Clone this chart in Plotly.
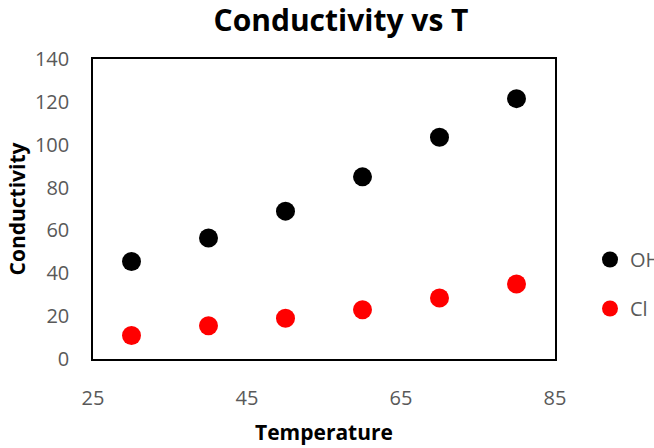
import plotly.graph_objects as go

temperature = [30, 40, 50, 60, 70, 80]
oh_conductivity = [45.5, 56.5, 69, 85, 103.5, 121.5]
cl_conductivity = [11, 15.5, 19, 23, 28.5, 35]
x_ticks = [25, 45, 65, 85]
y_ticks = [0, 20, 40, 60, 80, 100, 120, 140]

FONT = "Open Sans, sans-serif"
GREY = "#595959"

fig = go.Figure()
fig.add_trace(go.Scatter(x=temperature, y=oh_conductivity, mode="markers", name="OH",
                         legendgroup="a",
                         marker=dict(color="black", size=19)))
fig.add_trace(go.Scatter(x=temperature, y=cl_conductivity, mode="markers", name="Cl",
                         legendgroup="b",
                         marker=dict(color="#ff0000", size=19)))

fig.update_layout(
    width=654, height=448,
    margin=dict(l=93, r=99, t=59, b=89, autoexpand=False),
    paper_bgcolor="white", plot_bgcolor="white",
    font=dict(family=FONT, color=GREY, size=20),
    title=dict(text="<b>Conductivity vs T</b>", x=341 / 654, xanchor="center",
               y=1 - 20 / 448, yanchor="middle",
               font=dict(family=FONT, size=30, color="black")),
    showlegend=True,
    legend=dict(x=(590 - 93) / 462, xanchor="left", y=0.25, yanchor="middle",
                traceorder="grouped", tracegroupgap=20,
                font=dict(family=FONT, size=20, color=GREY),
                bgcolor="rgba(0,0,0,0)", borderwidth=0),
    xaxis=dict(range=[25, 85], tickvals=x_ticks, showgrid=False, zeroline=False,
               showline=True, linecolor="black", linewidth=1.5, mirror=True,
               ticks="outside", ticklen=20, tickcolor="rgba(0,0,0,0)",
               tickfont=dict(family=FONT, size=20, color=GREY),
               title=dict(text="<b>Temperature</b>", standoff=16,
                          font=dict(family=FONT, size=21, color="black"))),
    yaxis=dict(range=[0, 140], tickvals=y_ticks, showgrid=False, zeroline=False,
               showline=True, linecolor="black", linewidth=1.5, mirror=True,
               ticks="outside", ticklen=18, tickcolor="rgba(0,0,0,0)",
               tickfont=dict(family=FONT, size=20, color=GREY),
               title=dict(text="<b>Conductivity</b>", standoff=4,
                          font=dict(family=FONT, size=21, color="black"))),
)

fig.write_html("out.html")
